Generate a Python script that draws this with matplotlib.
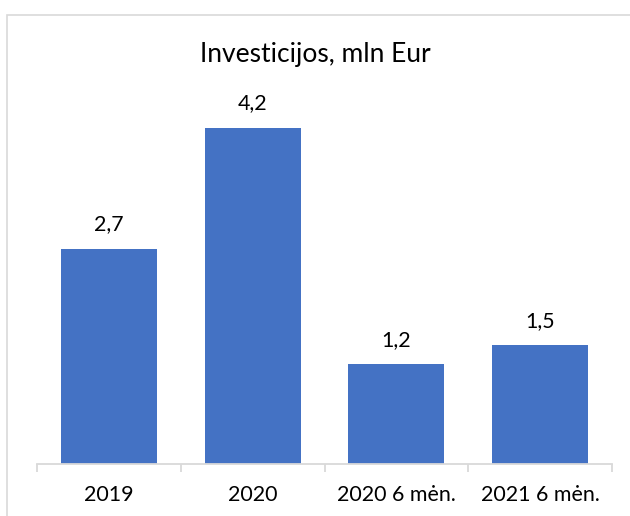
import matplotlib
matplotlib.use("Agg")
import matplotlib.pyplot as plt
import numpy as np

categories = ["2019", "2020", "2020 6 mėn.", "2021 6 mėn."]
values = [2.69, 4.2, 1.25, 1.49]
value_labels = ["2,7", "4,2", "1,2", "1,5"]
title = "Investicijos, mln Eur"

plt.rcParams['font.family'] = ['Lato', 'DejaVu Sans']

W, H = 630, 516
fig = plt.figure(figsize=(W / 100, H / 100), dpi=100)

# light gray chart border (clipped by the image on right/bottom)
border = plt.Rectangle((7 / W, -0.1), 1.2, 1 - 15 / H + 0.1, transform=fig.transFigure,
                       fill=False, ec="#D9D9D9", lw=1.2)
fig.patches.append(border)

ax = fig.add_axes([37 / W, 1 - 464 / H, 575 / W, 360 / H])
x = np.arange(len(categories))
bars = ax.bar(x, values, width=0.668, color="#4472C4")
ax.set_xlim(-0.5, len(categories) - 0.5)
ax.set_ylim(0, 360 / 80.1)

for b, lab in zip(bars, value_labels):
    ax.annotate(lab, (b.get_x() + b.get_width() / 2, b.get_height()),
                xytext=(0, 13), textcoords="offset points", ha="center", va="baseline",
                fontsize=15.4, color="#000000")

for s in ["top", "right", "left"]:
    ax.spines[s].set_visible(False)
ax.spines["bottom"].set_color("#D9D9D9")
ax.spines["bottom"].set_linewidth(1.3)
ax.set_yticks([])
ax.set_xticks(np.arange(-0.5, len(categories), 1.0))
ax.set_xticklabels([])
ax.set_xticks(x, minor=True)
ax.set_xticklabels(categories, minor=True, fontsize=15.4)
ax.tick_params(axis="x", which="major", length=6, color="#D9D9D9", width=1.3)
ax.tick_params(axis="x", which="minor", length=0, pad=15)

fig.text(0.5, 1 - 62 / H, title, ha="center", va="baseline", fontsize=19)

fig.savefig("out.png", dpi=100)
